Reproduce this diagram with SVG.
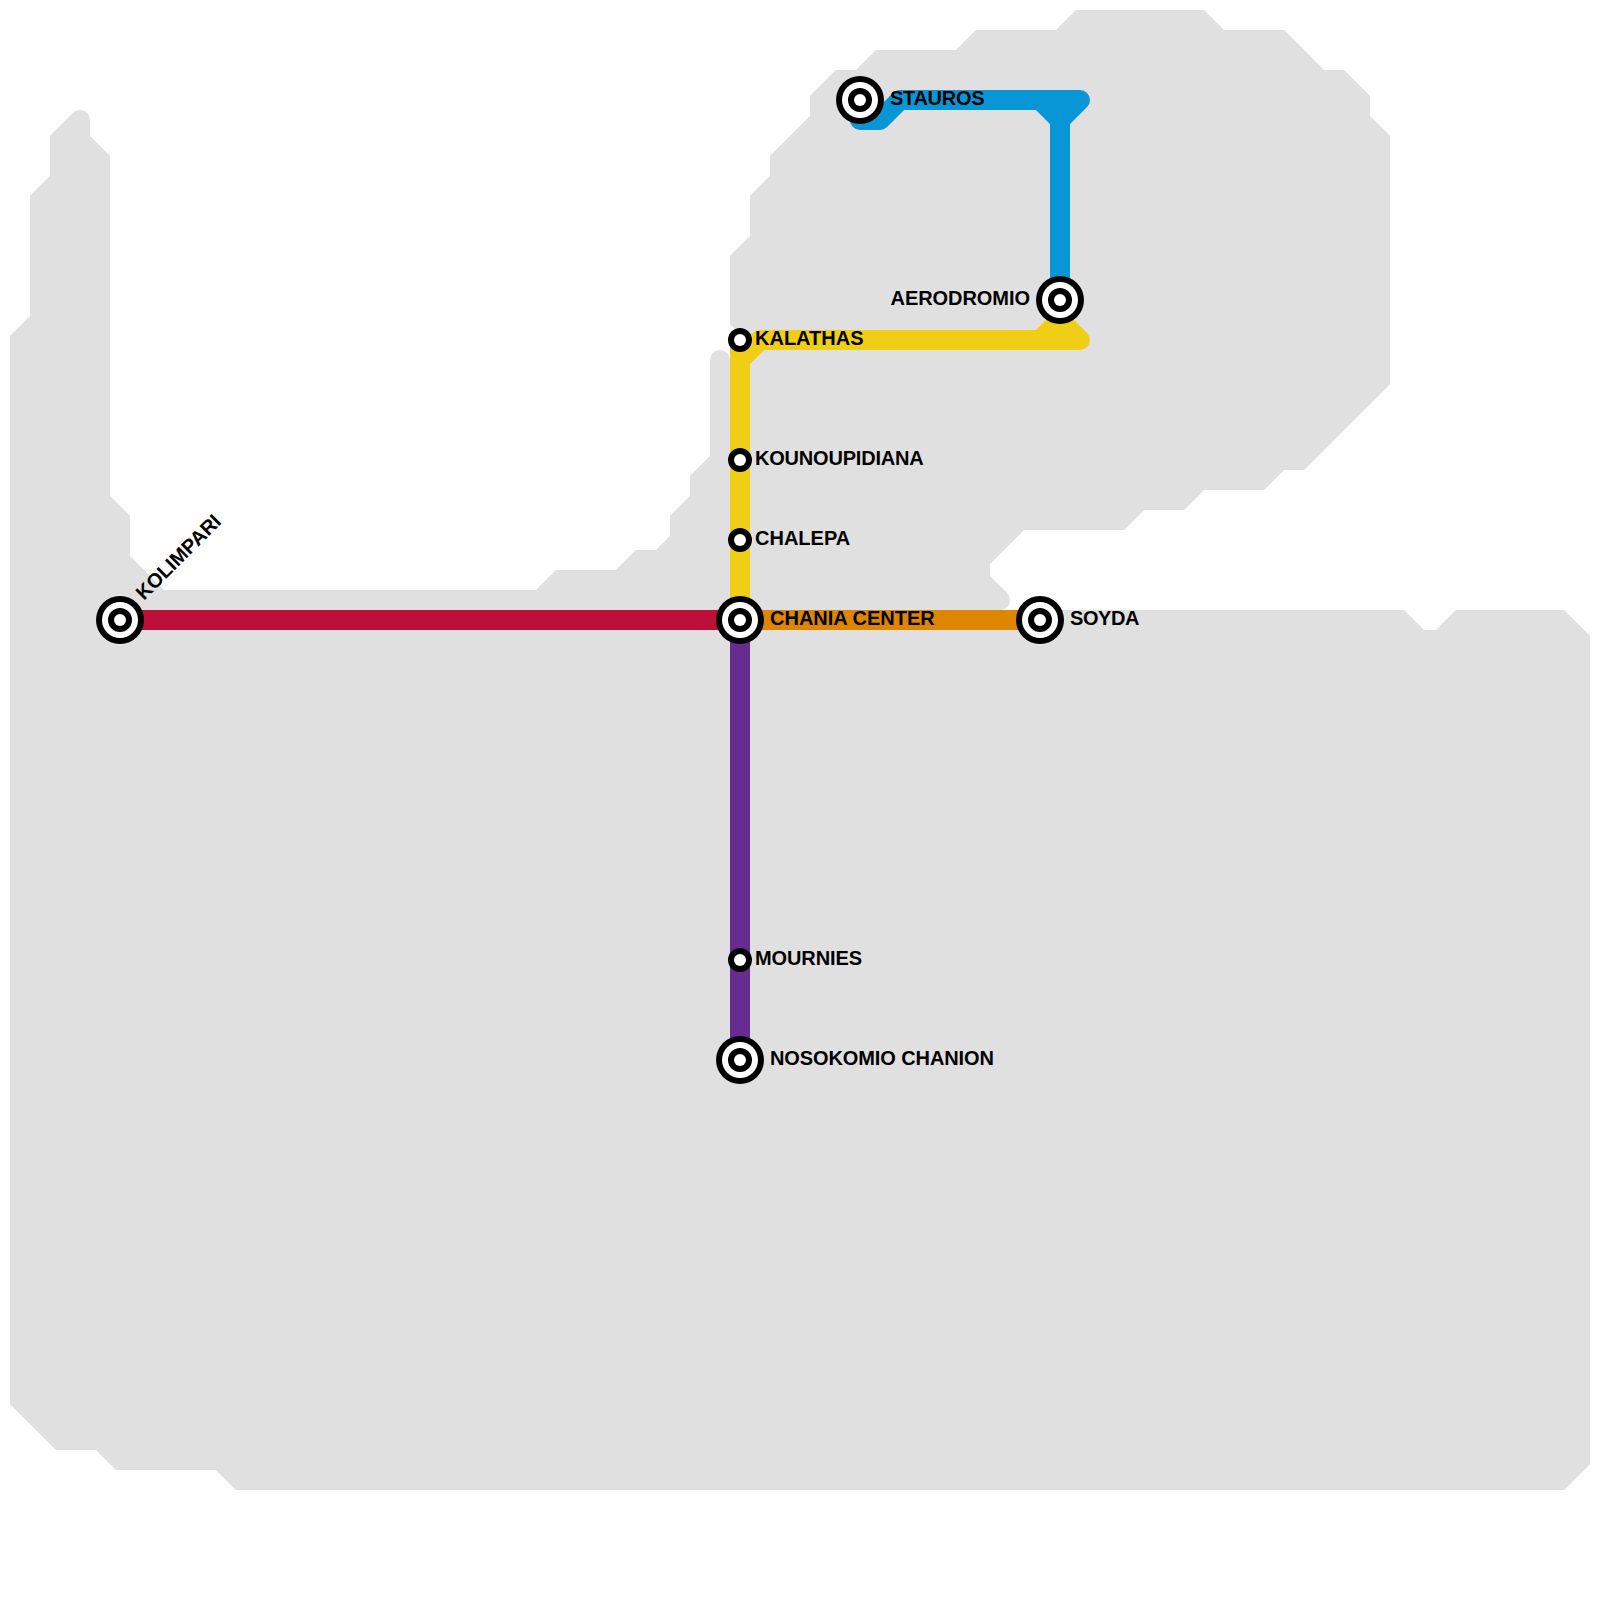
<svg xmlns="http://www.w3.org/2000/svg" width="1600" height="1600" viewBox="0 0 1600 1600">
<style>
.land{fill:#e0e0e0;stroke:#e0e0e0;stroke-width:20;stroke-linejoin:miter;stroke-miterlimit:2}
.tip{fill:#e0e0e0}
.line{fill:none;stroke-width:20;stroke-linejoin:round;stroke-linecap:round}
.k{fill:#000}.w{fill:#fff}
text{font-family:"Liberation Sans",Arial,sans-serif;font-weight:700;font-size:20px;fill:#000}
</style>
<defs>
<g id="big"><circle class="k" r="24"/><circle class="w" r="18"/><circle class="k" r="12"/><circle class="w" r="6"/></g>
<g id="small"><circle class="k" r="12"/><circle class="w" r="6"/></g>
</defs>
<g id="land-area">
<polygon class="land" points="20,340 40,320 40,200 60,180 60,140 80,120 80,140 100,160 100,500 120,520 120,560 160,600 540,600 560,580 620,580 640,560 660,560 680,540 680,520 700,500 700,480 720,460 720,360 720,380 760,380 760,340 740,320 740,260 760,240 760,200 780,180 780,160 820,120 820,100 840,80 860,80 880,60 960,60 980,40 1060,40 1080,20 1200,20 1220,40 1280,40 1320,80 1340,80 1360,100 1360,120 1380,140 1380,380 1300,460 1280,460 1260,480 1200,480 1180,500 1140,500 1120,520 1020,520 980,560 980,580 1000,600 980,600 980,640 1040,640 1040,620 1400,620 1420,640 1440,640 1460,620 1560,620 1580,640 1580,1460 1560,1480 240,1480 220,1460 120,1460 100,1440 60,1440 20,1400"/>
<circle class="tip" cx="80" cy="120" r="10"/>
<circle class="tip" cx="720" cy="360" r="10"/>
<circle class="tip" cx="1000" cy="600" r="10"/>
</g>
<g id="connectors">
<path class="line" stroke="#bd1038" d="M120 620H740"/>
<path class="line" stroke="#df8600" d="M740 620H1040"/>
<path class="line" stroke="#662c90" d="M740 620V1060"/>
<path class="line" stroke="#f0ce15" d="M740 340V620"/>
<path class="line" stroke="#f0ce15" d="M1060 300V320L1080 340H760L740 360M1040 340L1060 320"/>
<path class="line" stroke="#0896d7" d="M860 120H880L900 100H1080L1060 120V300M1040 100L1060 120"/>
</g>
<g id="stauros"><use href="#big" x="860" y="100"/><text x="890" y="104.5" letter-spacing="-0.3">STAUROS</text></g>
<g id="aerodromio"><use href="#big" x="1060" y="300"/><text x="1030" y="304.5" text-anchor="end" letter-spacing="-0.05">AERODROMIO</text></g>
<g id="kalathas"><use href="#small" x="740" y="340"/><text x="755" y="344.5">KALATHAS</text></g>
<g id="kounoupidiana"><use href="#small" x="740" y="460"/><text x="755" y="464.5" letter-spacing="-0.2">KOUNOUPIDIANA</text></g>
<g id="chalepa"><use href="#small" x="740" y="540"/><text x="755" y="544.5">CHALEPA</text></g>
<g id="chania-center"><use href="#big" x="740" y="620"/><text x="770" y="624.5">CHANIA CENTER</text></g>
<g id="soyda"><use href="#big" x="1040" y="620"/><text x="1070" y="624.5" letter-spacing="-0.4">SOYDA</text></g>
<g id="kolimpari"><use href="#big" x="120" y="620"/><text transform="translate(144 601) rotate(-45)">KOLIMPARI</text></g>
<g id="mournies"><use href="#small" x="740" y="960"/><text x="755" y="964.5" letter-spacing="-0.1">MOURNIES</text></g>
<g id="nosokomio-chanion"><use href="#big" x="740" y="1060"/><text x="770" y="1064.5" letter-spacing="-0.1">NOSOKOMIO CHANION</text></g>
</svg>
